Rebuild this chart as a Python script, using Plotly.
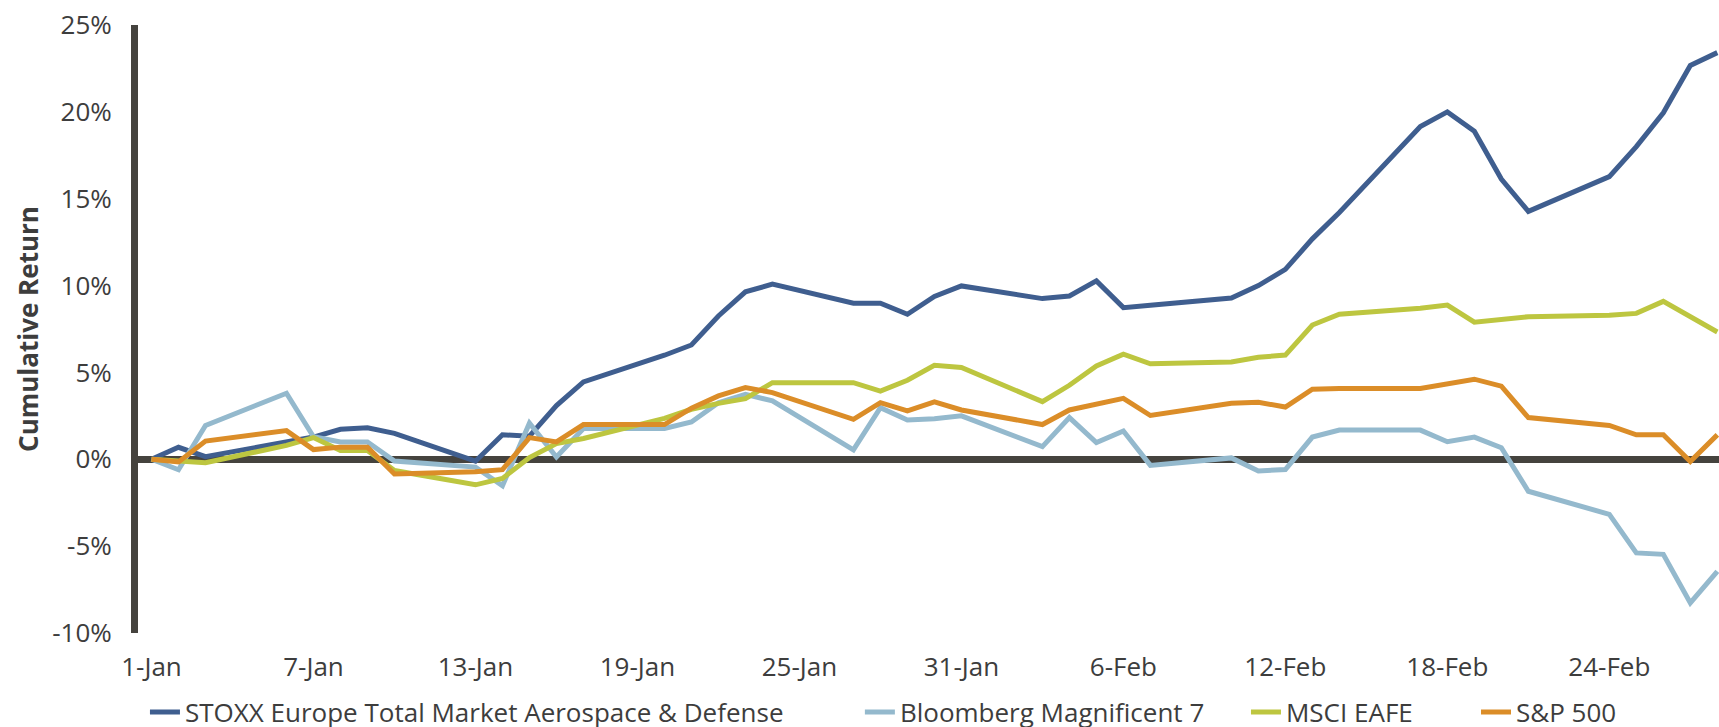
import plotly.graph_objects as go

dates = [
    "2025-01-01", "2025-01-02", "2025-01-03",
    "2025-01-06", "2025-01-07", "2025-01-08", "2025-01-09", "2025-01-10",
    "2025-01-13", "2025-01-14", "2025-01-15", "2025-01-16", "2025-01-17",
    "2025-01-20", "2025-01-21", "2025-01-22", "2025-01-23", "2025-01-24",
    "2025-01-27", "2025-01-28", "2025-01-29", "2025-01-30", "2025-01-31",
    "2025-02-03", "2025-02-04", "2025-02-05", "2025-02-06", "2025-02-07",
    "2025-02-10", "2025-02-11", "2025-02-12", "2025-02-13", "2025-02-14",
    "2025-02-17", "2025-02-18", "2025-02-19", "2025-02-20", "2025-02-21",
    "2025-02-24", "2025-02-25", "2025-02-26", "2025-02-27", "2025-02-28",
]

stoxx_aero_defense = [
    0.0, 0.69, 0.15,
    1.0, 1.28, 1.73, 1.81, 1.49,
    -0.11, 1.41, 1.33, 3.09, 4.45,
    5.99, 6.58, 8.25, 9.64, 10.08,
    8.98, 8.98, 8.35, 9.37, 9.98,
    9.25, 9.4, 10.27, 8.73, 8.87,
    9.28, 10.0, 10.93, 12.69, 14.21,
    19.15, 20.0, 18.88, 16.13, 14.27,
    16.27, 18.0, 19.95, 22.67, 23.41,
]

bloomberg_mag7 = [
    0.0, -0.6, 1.95,
    3.8, 1.3, 1.0, 1.0, -0.1,
    -0.45, -1.52, 2.08, 0.13, 1.77,
    1.77, 2.15, 3.26, 3.74, 3.36,
    0.54, 2.97, 2.26, 2.34, 2.5,
    0.73, 2.4, 0.96, 1.63, -0.35,
    0.08, -0.67, -0.59, 1.28, 1.68,
    1.68, 1.01, 1.28, 0.67, -1.84,
    -3.17, -5.39, -5.47, -8.27, -6.45,
]

msci_eafe = [
    0.0, -0.1, -0.2,
    0.8, 1.25, 0.5, 0.5, -0.65,
    -1.47, -1.1, 0.1, 0.9, 1.2,
    2.35, 2.88, 3.22, 3.49, 4.41,
    4.41, 3.93, 4.55, 5.41, 5.28,
    3.32, 4.26, 5.37, 6.05, 5.5,
    5.6, 5.87, 6.0, 7.73, 8.35,
    8.69, 8.88, 7.89, 8.03, 8.21,
    8.29, 8.4, 9.09, 8.21, 7.33,
]

sp500 = [
    0.0, -0.15, 1.05,
    1.65, 0.56, 0.7, 0.7, -0.85,
    -0.72, -0.6, 1.25, 1.0, 2.0,
    2.0, 2.94, 3.65, 4.13, 3.84,
    2.3, 3.26, 2.78, 3.3, 2.84,
    2.0, 2.84, 3.17, 3.51, 2.52,
    3.23, 3.28, 3.01, 4.03, 4.08,
    4.08, 4.35, 4.61, 4.21, 2.4,
    1.95, 1.41, 1.41, -0.13, 1.41,
]

series_names = [
    "STOXX Europe Total Market Aerospace & Defense",
    "Bloomberg Magnificent 7",
    "MSCI EAFE",
    "S&P 500",
]
series_values = [stoxx_aero_defense, bloomberg_mag7, msci_eafe, sp500]
series_colors = ["#3F5E8F", "#94B9CD", "#BDC640", "#DB8D28"]

x_tick_vals = ["2025-01-01", "2025-01-07", "2025-01-13", "2025-01-19", "2025-01-25",
               "2025-01-31", "2025-02-06", "2025-02-12", "2025-02-18", "2025-02-24"]
x_tick_text = ["1-Jan", "7-Jan", "13-Jan", "19-Jan", "25-Jan",
               "31-Jan", "6-Feb", "12-Feb", "18-Feb", "24-Feb"]
y_tick_vals = [25, 20, 15, 10, 5, 0, -5, -10]
y_tick_text = ["25%", "20%", "15%", "10%", "5%", "0%", "-5%", "-10%"]

FONT = "'Open Sans', 'Noto Sans', sans-serif"
TEXT_COLOR = "#3D3D3D"
AXIS_COLOR = "#45433E"

legend_ids = ["legend", "legend2", "legend3", "legend4"]
legend_x = [0.0044, 0.4566, 0.7008, 0.8463]

fig = go.Figure()
for name, vals, color, lid in zip(series_names, series_values, series_colors, legend_ids):
    fig.add_trace(go.Scatter(
        x=dates, y=vals, name=name, mode="lines",
        line=dict(color=color, width=5),
        legend=lid,
    ))

legend_common = dict(
    orientation="h", yanchor="middle", y=-0.130, xanchor="left",
    font=dict(family=FONT, size=26, color=TEXT_COLOR),
    bgcolor="rgba(0,0,0,0)", borderwidth=0,
)
layout_legends = {}
for lid, lx in zip(legend_ids, legend_x):
    layout_legends[lid] = dict(legend_common, x=lx)

fig.update_layout(
    width=1719, height=748,
    margin=dict(l=138, r=0, t=25, b=115),
    paper_bgcolor="white", plot_bgcolor="white",
    font=dict(family=FONT, color=TEXT_COLOR),
    showlegend=True,
    xaxis=dict(
        type="date",
        range=["2024-12-31 12:00", "2025-02-28 01:30"],
        tickvals=x_tick_vals, ticktext=x_tick_text,
        showgrid=False, zeroline=False, showline=False,
        ticks="", ticklabelstandoff=16,
        tickfont=dict(family=FONT, size=26, color=TEXT_COLOR),
    ),
    yaxis=dict(
        range=[-10, 25],
        tickvals=y_tick_vals, ticktext=y_tick_text,
        showgrid=False,
        zeroline=True, zerolinewidth=7, zerolinecolor=AXIS_COLOR,
        showline=True, linewidth=7, linecolor=AXIS_COLOR,
        ticks="", ticklabelstandoff=14,
        tickfont=dict(family=FONT, size=26, color=TEXT_COLOR),
        title=dict(text="<b>Cumulative Return</b>", standoff=9,
                   font=dict(family=FONT, size=26, color=TEXT_COLOR)),
    ),
    **layout_legends,
)

fig.write_html(
    "out.html",
    config={"displayModeBar": False},
    post_script="document.body.style.margin='0px';document.body.style.overflow='hidden';",
)
